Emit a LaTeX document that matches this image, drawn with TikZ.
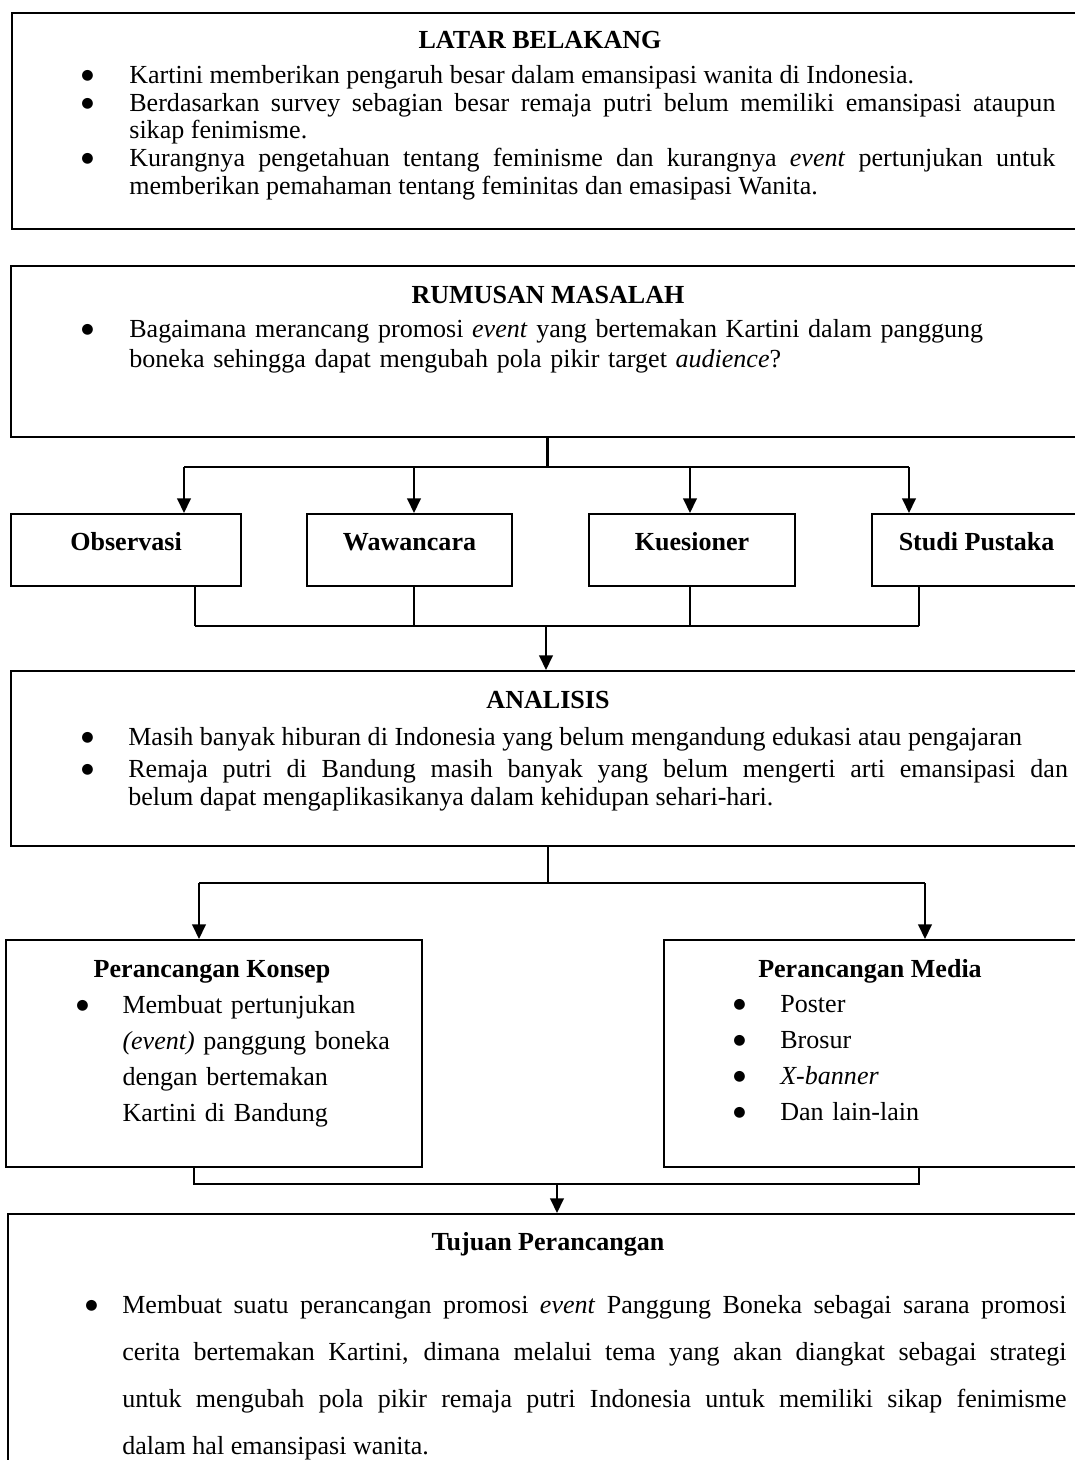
\documentclass[tikz,border=0pt]{standalone}
\usepackage{fontspec}
\setmainfont{Liberation Serif}
\newfontfamily\simbol{DejaVu Sans}
\usetikzlibrary{arrows.meta,positioning}

\newcommand{\titik}{\raisebox{1.8pt}{\simbol\fontsize{6.8}{6.8}\selectfont ●}}
\newcommand{\butir}[2]{\noindent\hangindent=#1\hangafter=1\makebox[#1][l]{\hspace{0.5pt}\titik}#2\par}

\tikzset{
  kotak/.style={draw, line width=1pt, anchor=north west, inner sep=0pt},
  kecil/.style={kotak, font=\fontsize{12.5}{15}\selectfont\bfseries, text height=8pt, text depth=8pt, minimum height=34.56pt},
  judul/.style={font=\fontsize{12.5}{15}\selectfont\bfseries, anchor=base},
  isi/.style={anchor=north west, inner sep=0pt, align=justify},
  garis/.style={line width=1pt},
  panah/.style={line width=1pt, -{Triangle[width=6.5pt,length=7pt]}},
}

\begin{document}
\begin{tikzpicture}[x=0.48pt, y=-0.48pt]
\useasboundingbox (0,0) rectangle (1075,1460);
\clip (0,0) rectangle (1075,1460);

% latar belakang
\node[kotak, minimum width=517.92pt, minimum height=103.68pt] (lb) at (11,12) {};
\node[judul] (lbj) at (540,48) {LATAR BELAKANG};
\node[isi, text width=468pt, font=\fontsize{12.5}{13.3}\selectfont] (lbi) at (80,65) {%
  \butir{23.5pt}{Kartini memberikan pengaruh besar dalam emansipasi wanita di Indonesia.}
  \butir{23.5pt}{Berdasarkan survey sebagian besar remaja putri belum memiliki emansipasi ataupun\linebreak sikap fenimisme.}
  \butir{23.5pt}{Kurangnya pengetahuan tentang feminisme dan kurangnya \emph{event} pertunjukan untuk\linebreak memberikan pemahaman tentang feminitas dan emasipasi Wanita.}};

% rumusan masalah
\node[kotak, minimum width=518.4pt, minimum height=82.08pt] (rm) at (10,265) {};
\node[judul] (rmj) at (548,303) {RUMUSAN MASALAH};
\node[isi, text width=470pt, align=left, font=\fontsize{12.5}{14.4}\selectfont] (rmi) at (80,319) {%
  \butir{23.5pt}{Bagaimana merancang promosi \emph{event} yang bertemakan Kartini dalam panggung\newline boneka sehingga dapat mengubah pola pikir target \emph{audience}?}};

% metode
\node[kecil, minimum width=110.4pt] (obs) at (10,513) {Observasi};
\node[kecil, minimum width=98.4pt] (waw) at (306,513) {Wawancara};
\node[kecil, minimum width=98.88pt] (kue) at (588,513) {Kuesioner};
\node[kecil, minimum width=100.32pt] (stp) at (871,513) {Studi Pustaka};

\coordinate (j2) at (547.5,467);
\coordinate (a1) at (184,467);
\coordinate (a2) at (414,467);
\coordinate (a3) at (690,467);
\coordinate (a4) at (909,467);
\draw[garis] (rm.south -| j2) -- (j2);
\draw[garis] (a1) -- (a4);
\foreach \a/\b in {a1/obs, a2/waw, a3/kue, a4/stp}
  \draw[panah] (\a) -- (\a |- \b.north);

\coordinate (b1) at (195,626);
\coordinate (b2) at (414,626);
\coordinate (b3) at (690,626);
\coordinate (b4) at (919,626);
\foreach \c/\b in {b1/obs, b2/waw, b3/kue, b4/stp}
  \draw[garis] (\b.south -| \c) -- (\c);
\draw[garis] (b1) -- (b4);

% analisis
\node[kotak, minimum width=518.4pt, minimum height=84pt] (an) at (10,670) {};
\coordinate (j3) at (546,626);
\draw[panah] (j3) -- (j3 |- an.north);
\node[judul] (anj) at (548,708) {ANALISIS};
\node[isi, text width=474pt, font=\fontsize{12.5}{13.4}\selectfont] (ani) at (80,727) {%
  \setlength{\parskip}{2pt}%
  \butir{23pt}{Masih banyak hiburan di Indonesia yang belum mengandung edukasi atau pengajaran}
  \butir{23pt}{Remaja putri di Bandung masih banyak yang belum mengerti arti emansipasi dan\linebreak belum dapat mengaplikasikanya dalam kehidupan sehari-hari.}};

% perancangan
\node[kotak, minimum width=199.68pt, minimum height=108.96pt] (kon) at (5,939) {};
\node[kotak, minimum width=206.4pt, minimum height=108.96pt] (med) at (663,939) {};
\coordinate (j4) at (548,883);
\coordinate (c1) at (199,883);
\coordinate (c2) at (925,883);
\draw[garis] (an.south -| j4) -- (j4);
\draw[garis] (c1) -- (c2);
\draw[panah] (c1) -- (c1 |- kon.north);
\draw[panah] (c2) -- (c2 |- med.north);

\node[judul] (konj) at (212,977) {Perancangan Konsep};
\node[isi, text width=165pt, align=left, font=\fontsize{12.5}{17.3}\selectfont] (koni) at (75,995) {%
  \butir{22.6pt}{Membuat pertunjukan\newline \emph{(event)} panggung boneka\newline dengan bertemakan\newline Kartini di Bandung}};

\node[judul] (medj) at (870,977) {Perancangan Media};
\node[isi, text width=160pt, align=left, font=\fontsize{12.5}{17.3}\selectfont] (medi) at (732,995) {%
  \butir{23pt}{Poster}
  \butir{23pt}{Brosur}
  \butir{23pt}{\emph{X-banner}}
  \butir{23pt}{Dan lain-lain}};

% tujuan
\node[kotak, minimum width=523.2pt, minimum height=124.8pt] (tj) at (7,1213) {};
\coordinate (d1) at (194,1184);
\coordinate (d2) at (919,1184);
\coordinate (j5) at (557,1184);
\draw[garis] (kon.south -| d1) -- (d1) -- (d2) -- (med.south -| d2);
\draw[panah] (j5) -- (j5 |- tj.north);

\node[judul] (tjj) at (548,1250) {Tujuan Perancangan};
\node[isi, text width=471.4pt, font=\fontsize{12.5}{22.6}\selectfont] (tji) at (84,1295) {%
  \butir{18.2pt}{Membuat suatu perancangan promosi \emph{event} Panggung Boneka sebagai sarana promosi\linebreak cerita bertemakan Kartini, dimana melalui tema yang akan diangkat sebagai strategi\linebreak untuk mengubah pola pikir remaja putri Indonesia untuk memiliki sikap fenimisme\linebreak dalam hal emansipasi wanita.}};
\end{tikzpicture}
\end{document}
